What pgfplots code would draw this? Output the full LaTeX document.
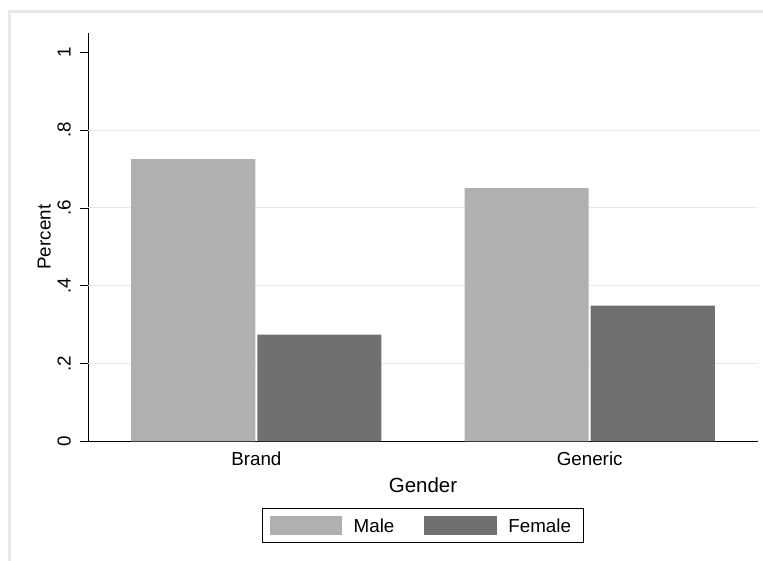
\documentclass[border=0pt]{standalone}
\usepackage{pgfplots}
\pgfplotsset{compat=1.18}
\usepackage{fontspec}
\setmainfont{Liberation Sans}
\definecolor{male}{RGB}{176,176,176}
\definecolor{female}{RGB}{112,112,112}
\definecolor{gridc}{RGB}{234,234,234}
\definecolor{framec}{RGB}{232,232,232}
\begin{document}
\begin{tikzpicture}
\useasboundingbox (-88bp,-119.7bp) rectangle (675bp,441.3bp);
\draw[framec, line width=3bp] (-78.2bp,-140bp) -- (-78.2bp,430bp) -- (700bp,430bp);
\begin{axis}[
  at={(0bp,0bp)}, anchor=south west,
  scale only axis, width=670bp, height=408.3bp,
  xmin=-0.505, xmax=1.505, ymin=0, ymax=1.0497,
  axis x line*=bottom, axis y line*=left,
  axis line style={line width=0.8bp, black, -},
  font=\fontsize{18.8bp}{22bp}\selectfont,
  xtick={0,1}, xticklabels={Brand,Generic},
  x tick style={draw=none},
  xticklabel style={anchor=base, inner sep=0pt, yshift=-16bp},
  xticklabel shift=0bp,
  ytick={0,0.2,0.4,0.6,0.8,1}, yticklabels={0,.2,.4,.6,.8,1},
  y tick style={black, line width=0.8bp},
  tick align=outside, major tick length=8bp,
  yticklabel style={xshift=-9.5bp, rotate=90, anchor=base, inner sep=0pt},
  extra y ticks={0.2,0.4,0.6,0.8},
  extra y tick labels={},
  extra y tick style={grid=major, major grid style={gridc, line width=1bp}, major tick length=0pt},
  xlabel={Gender},
  xlabel style={at={(axis description cs:0.5,-0.1266)}, anchor=base, inner sep=0pt, font=\fontsize{20.5bp}{24bp}\selectfont},
  ylabel={Percent},
  ylabel style={at={(axis description cs:-0.0557,0.5)}, anchor=base, inner sep=0pt, rotate=0},
  legend columns=2,
  legend style={at={(axis description cs:0.4998,-0.2062)}, anchor=center,
    draw=black, line width=0.8bp, inner xsep=7.3bp, inner ysep=7.5bp,
    font=\fontsize{18.8bp}{22bp}\selectfont,
    nodes={inner sep=0pt},
    /tikz/every odd column/.append style={column sep=11.3bp},
    /tikz/every even column/.append style={column sep=30bp}},
  legend image code/.code={\fill[#1, draw=none] (0bp,-9bp) rectangle (72.7bp,10.7bp);},
]
\addplot[ybar, bar width=0.3724, bar shift=-0.1892, fill=male, draw=none] coordinates {(0,0.7257) (1,0.651)};
\addplot[ybar, bar width=0.3724, bar shift=0.1892, fill=female, draw=none] coordinates {(0,0.2743) (1,0.349)};
\legend{Male,Female\kern5bp}
\end{axis}
\end{tikzpicture}
\end{document}
